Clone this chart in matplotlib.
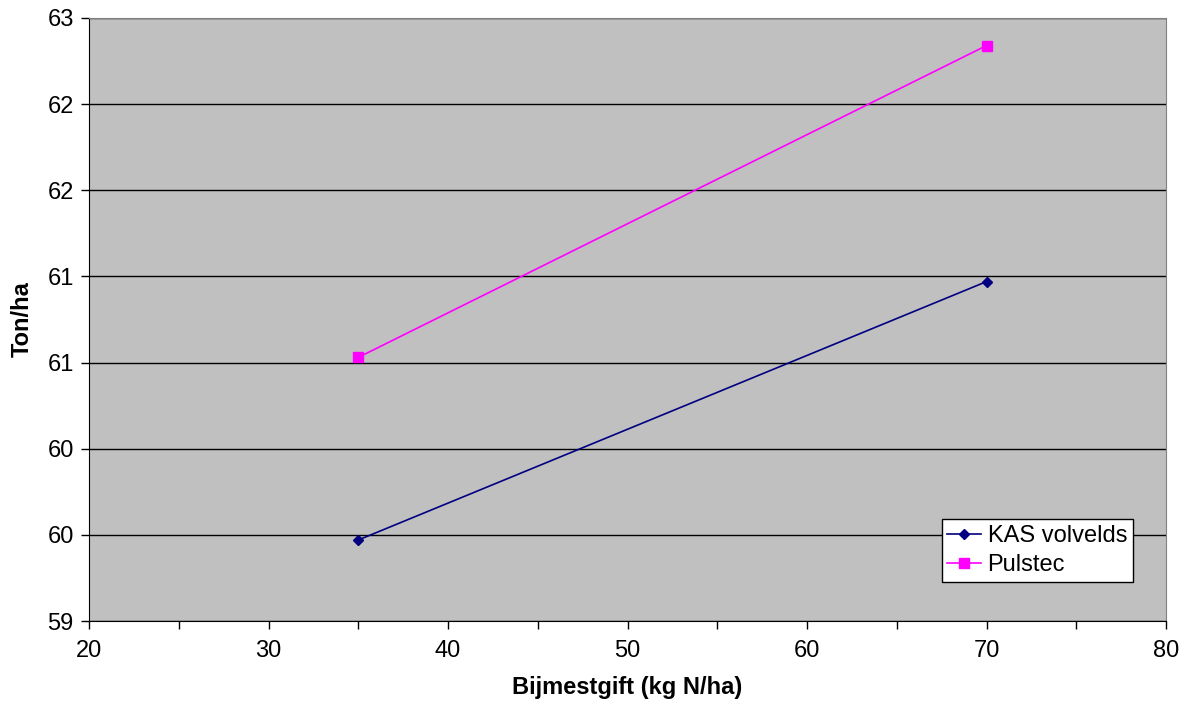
import matplotlib
matplotlib.use("Agg")
import matplotlib.pyplot as plt
import numpy as np
from matplotlib.ticker import FuncFormatter, MultipleLocator
import math

x_vals = [35, 70]
kas = [59.47, 60.97]
pulstec = [60.53, 62.34]
series_names = ["KAS volvelds", "Pulstec"]

plt.rcParams['font.family'] = ['Liberation Sans', 'DejaVu Sans']

fig = plt.figure(figsize=(11.91, 7.11), dpi=100)
ax = fig.add_axes([89/1191, 1-621/711, (1166-89)/1191, (621-18)/711])
ax.set_facecolor('#c0c0c0')

ax.plot(x_vals, kas, color='#000080', marker='D', markersize=5, lw=1.2, label=series_names[0], zorder=3)
ax.plot(x_vals, pulstec, color='#ff00ff', marker='s', markersize=7, lw=1.2, label=series_names[1], zorder=3)

ax.set_xlim(20, 80)
ax.set_ylim(59, 62.5)
ax.xaxis.set_major_locator(MultipleLocator(5))
ax.xaxis.set_major_formatter(FuncFormatter(lambda v, p: f"{int(round(v))}" if abs(v % 10) < 1e-6 else ""))
ax.yaxis.set_major_locator(MultipleLocator(0.5))
ax.yaxis.set_major_formatter(FuncFormatter(lambda v, p: f"{int(math.floor(v + 0.5 + 1e-9))}"))
ax.grid(axis='y', color='black', lw=1)
ax.set_axisbelow(True)
for s in ax.spines.values():
    s.set_color('#808080')
ax.spines['left'].set_color('black')
ax.spines['bottom'].set_color('black')
ax.tick_params(direction='out', length=6, labelsize=17, color='black', width=1)
ax.tick_params(axis='x', pad=8)
ax.tick_params(axis='y', pad=5)
ax.set_xlabel("Bijmestgift (kg N/ha)", fontsize=17, fontweight='bold', labelpad=10)
ax.set_ylabel("Ton/ha", fontsize=17, fontweight='bold', labelpad=10)

leg = ax.legend(loc='lower right', bbox_to_anchor=((1133-89)/(1166-89), (621-582)/(621-18)),
                fontsize=17, frameon=True, fancybox=False, edgecolor='black',
                borderpad=0.25, handlelength=1.4, handletextpad=0.3, labelspacing=0.3,
                borderaxespad=0, framealpha=1)
leg.get_frame().set_facecolor('white')
leg.get_frame().set_linewidth(1)

fig.savefig("out.png", dpi=100)
